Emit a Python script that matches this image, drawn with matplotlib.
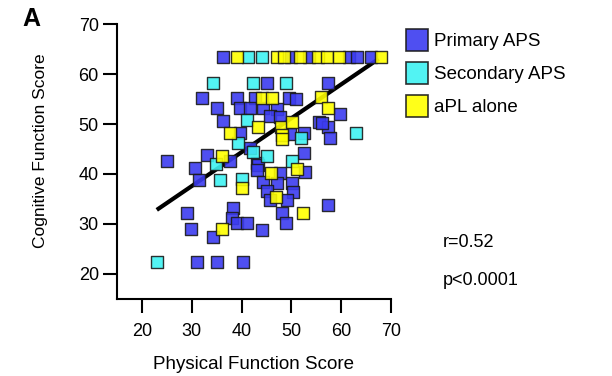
import numpy as np
import matplotlib
matplotlib.use("Agg")
import matplotlib.pyplot as plt
from matplotlib.lines import Line2D

plt.rcParams['font.family'] = ['Liberation Sans', 'DejaVu Sans']

# Primary APS (x = physical, y = cognitive)
primary_x = [36.2, 49.9, 53.5, 61.5, 63.1, 65.9,
             45.1, 57.4,
             32.0, 39.1, 42.7, 49.5, 51.0,
             35.0, 39.7, 41.7, 44.3, 47.1,
             36.2, 45.7, 47.7, 59.7, 55.6, 57.4,
             49.7, 52.6, 56.2, 39.7, 57.8, 52.6, 43.1, 41.7,
             25.0, 33.0, 30.6, 31.4, 37.7,
             43.3, 43.1, 47.7, 52.8,
             44.3, 47.1, 50.1, 45.1, 50.3, 45.7, 49.1, 48.1, 48.9, 57.4,
             29.0, 29.8, 34.2, 38.3, 38.1, 39.0, 41.1, 44.1,
             31.0, 35.0, 40.3]
primary_y = [63.5, 63.5, 63.5, 63.5, 63.5, 63.5,
             58.2, 58.2,
             55.2, 55.2, 55.2, 55.2, 55.0,
             53.2, 53.2, 53.2, 53.2, 53.0,
             50.6, 51.6, 51.4, 52.0, 50.4, 49.4,
             48.0, 48.2, 50.2, 48.2, 47.2, 44.2, 42.2, 45.2,
             42.6, 43.8, 41.2, 38.8, 42.6,
             41.8, 40.8, 40.2, 40.4,
             38.4, 38.2, 38.2, 36.6, 36.4, 34.8, 34.8, 32.2, 30.2, 33.8,
             32.2, 29.0, 27.4, 33.2, 31.2, 30.2, 30.2, 28.8,
             22.4, 22.4, 22.4]

# Secondary APS
secondary_x = [41.3, 44.1, 34.3, 42.3, 48.9, 41.1, 39.3, 42.3, 45.1,
               34.9, 35.7, 40.1, 52.0, 63.0, 50.1, 23.0]
secondary_y = [63.5, 63.5, 58.2, 58.2, 58.2, 50.8, 46.2, 44.4, 43.6,
               42.0, 38.8, 39.0, 47.2, 48.2, 42.6, 22.4]

# aPL alone
apl_x = [39.1, 47.1, 48.5, 51.7, 55.3, 57.2, 59.5, 67.9,
         44.1, 46.1, 56.0, 57.4, 43.3, 47.9, 48.1, 48.1, 50.1,
         37.7, 36.1, 45.9, 51.1, 40.1, 46.9, 52.4, 36.1]
apl_y = [63.5, 63.5, 63.5, 63.5, 63.5, 63.5, 63.5, 63.5,
         55.2, 55.2, 55.4, 53.2, 49.4, 49.4, 47.8, 47.0, 50.4,
         48.2, 43.6, 40.2, 41.0, 37.2, 35.4, 32.2, 29.0]

# regression line
fit_slope = 0.679
fit_intercept = 17.2
fit_x = [23.0, 67.5]

groups = [("Primary APS", primary_x, primary_y, "#3c3cf0"),
          ("Secondary APS", secondary_x, secondary_y, "#3ff2f2"),
          ("aPL alone", apl_x, apl_y, "#ffff00")]

fig = plt.figure(figsize=(6.12, 3.76), dpi=100)
ax = fig.add_axes([0.191, 0.205, 0.448, 0.731])

xl = np.array(fit_x)
ax.plot(xl, fit_slope * xl + fit_intercept, color='black', lw=3, zorder=1,
        solid_capstyle='butt')

for name, xs, ys, col in groups:
    ax.scatter(xs, ys, marker='s', s=85, facecolor=col, edgecolor='#1a1a1a',
               linewidths=1.0, alpha=0.9, zorder=2)

ax.set_xlim(15, 70)
ax.set_ylim(15, 70)
ax.set_xticks([20, 30, 40, 50, 60, 70])
ax.set_yticks([20, 30, 40, 50, 60, 70])
ax.spines['top'].set_visible(False)
ax.spines['right'].set_visible(False)
for s in ['left', 'bottom']:
    ax.spines[s].set_linewidth(1.5)
ax.tick_params(length=10, width=1.5, labelsize=13)
ax.tick_params(axis='x', pad=7)
ax.tick_params(axis='y', pad=3)
ax.set_xlabel("Physical Function Score", fontsize=13.5, labelpad=12)
ax.set_ylabel("Cognitive Function Score", fontsize=12.5)
ax.yaxis.set_label_coords(-0.25, 0.54)

handles = [Line2D([], [], marker='s', ls='none', markersize=16,
                  markerfacecolor=col, markeredgecolor='#1a1a1a',
                  markeredgewidth=1.2, alpha=0.9)
           for name, xs, ys, col in groups]
fig.legend(handles, [g[0] for g in groups], loc='upper left',
           bbox_to_anchor=(0.638, 0.957), frameon=False, fontsize=13.5,
           handletextpad=0.4, labelspacing=0.85, handlelength=1.0)

fig.text(0.724, 0.354, "r=0.52", fontsize=13, va='center')
fig.text(0.724, 0.253, "p<0.0001", fontsize=13, va='center')
fig.text(0.036, 0.95, "A", fontsize=18, fontweight='bold', va='center')

fig.savefig("out.png", dpi=100)
